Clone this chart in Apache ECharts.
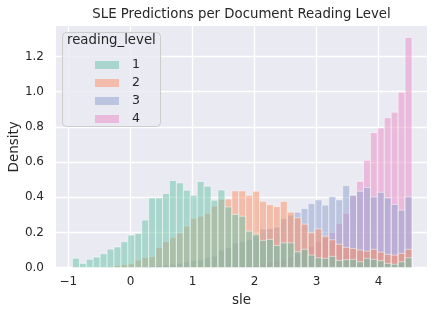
<!DOCTYPE html>
<html><head><meta charset="utf-8">
<script src="https://cdn.jsdelivr.net/npm/echarts@6/dist/echarts.min.js"></script>
<style>html,body{margin:0;padding:0;background:#fff}#c{width:436px;height:315px}</style>
</head><body><div id="c"></div>
<script>
// ---- data ----
const levels = ['1', '2', '3', '4'];
const binStart = -0.935;
const binWidth = 0.1117;
const level1 = [0.053,0.024,0.047,0.060,0.079,0.105,0.117,0.147,0.185,0.194,
  0.270,0.396,0.396,0.421,0.495,0.481,0.440,0.411,0.489,0.462,
  0.383,0.441,0.345,0.302,0.292,0.207,0.190,0.155,0.160,0.126,
  0.141,0.141,0.090,0.104,0.071,0.056,0.053,0.064,0.041,0.045,
  0.047,0.033,0.053,0.047,0.039,0.024,0.019,0.033,0.056];
const level2 = [0,0,0,0,0.003,0.006,0.012,0.017,0.022,0.043,
  0.058,0.062,0.115,0.147,0.172,0.196,0.236,0.279,0.292,0.308,
  0.349,0.388,0.390,0.436,0.436,0.411,0.434,0.377,0.358,0.347,
  0.376,0.315,0.283,0.247,0.198,0.220,0.179,0.158,0.133,0.115,
  0.109,0.100,0.094,0.104,0.088,0.075,0.071,0.081,0.104];
const level3 = [0,0,0,0,0,0,0,0,0,0.004,
  0.006,0.008,0.012,0.015,0.020,0.025,0.033,0.040,0.045,0.058,
  0.065,0.100,0.115,0.141,0.147,0.160,0.180,0.219,0.222,0.230,
  0.279,0.298,0.315,0.336,0.364,0.385,0.355,0.404,0.385,0.466,
  0.411,0.434,0.455,0.402,0.428,0.396,0.359,0.326,0.402];
const level4 = [0,0,0,0,0,0,0,0,0,0,
  0,0,0,0,0,0,0,0,0,0,
  0.003,0.004,0.005,0.006,0.008,0.010,0.012,0.020,0.030,0.040,
  0.050,0.060,0.080,0.100,0.120,0.150,0.170,0.200,0.250,0.308,
  0.412,0.490,0.610,0.767,0.793,0.852,0.883,0.997,1.308];
const xTicks = [-1, 0, 1, 2, 3, 4];
const yTicks = [0, 0.2, 0.4, 0.6, 0.8, 1.0, 1.2];

// ---- styling ----
const palette = {'1': '#66c2a5', '2': '#fc8d62', '3': '#8da0cb', '4': '#e78ac3'};
const legendColor = {'1': 'rgba(102,194,165,0.5)', '2': 'rgba(252,141,98,0.5)', '3': 'rgba(141,160,203,0.5)', '4': 'rgba(231,138,195,0.5)'};
const FONT = 'DejaVu Sans';
const TXT = '#262626';
const valuesByLevel = {'1': level1, '2': level2, '3': level3, '4': level4};

function binData(vals) {
  return vals.map((v, i) => [binStart + i * binWidth, binStart + (i + 1) * binWidth, v]);
}
function renderBar(color) {
  return function (params, api) {
    const h = api.value(2);
    if (!h) return null;
    const p0 = api.coord([api.value(0), 0]);
    const p1 = api.coord([api.value(1), h]);
    return {
      type: 'rect',
      shape: {x: p0[0], y: p1[1], width: p1[0] - p0[0], height: p0[1] - p1[1]},
      style: {fill: color, stroke: '#ffffff', lineWidth: 1, opacity: 0.5}
    };
  };
}
function fmtInt(v) {
  const r = Math.round(v);
  if (Math.abs(v - r) > 1e-6) return '';
  return r < 0 ? '\u2212' + (-r) : String(r);
}

const barSeries = ['4', '3', '2', '1'].map(l => ({
  name: l,
  type: 'custom',
  z: 2,
  renderItem: renderBar(palette[l]),
  itemStyle: {color: legendColor[l]},
  encode: {x: [0, 1], y: 2},
  data: binData(valuesByLevel[l])
}));

const gridSeries = {
  name: 'grid',
  type: 'line',
  data: [],
  z: 1,
  silent: true,
  markLine: {
    silent: true, symbol: 'none', z: 1, animation: false,
    label: {show: false},
    lineStyle: {color: '#ffffff', width: 1.3, type: 'solid'},
    emphasis: {disabled: true},
    data: xTicks.map(v => ({xAxis: v})).concat(yTicks.map(v => ({yAxis: v})))
  }
};

const chart = echarts.init(document.getElementById('c'), null, {renderer: 'canvas'});
chart.setOption({
  animation: false,
  backgroundColor: '#ffffff',
  textStyle: {fontFamily: FONT},
  grid: {left: 56, right: 9, top: 26, bottom: 47.4, show: true, backgroundColor: '#eaeaf2', borderWidth: 0,
    containLabel: false, outerBoundsMode: 'none'},
  xAxis: {
    type: 'value', min: -1.2, max: 4.78, interval: 0.2,
    axisLine: {show: false}, axisTick: {show: false}, splitLine: {show: false},
    axisLabel: {formatter: fmtInt, color: TXT, fontSize: 12, fontFamily: FONT, margin: 8},
    name: 'sle', nameLocation: 'middle', nameGap: 26, nameMoveOverlap: false,
    nameTextStyle: {color: TXT, fontSize: 13.5, fontFamily: FONT}
  },
  yAxis: {
    type: 'value', min: 0, max: 1.373, interval: 0.2,
    axisLine: {show: false}, axisTick: {show: false}, splitLine: {show: false},
    axisLabel: {
      formatter: v => (Math.abs(v / 0.2 - Math.round(v / 0.2)) < 1e-6 ? v.toFixed(1) : ''),
      showMaxLabel: false, color: TXT, fontSize: 12, fontFamily: FONT, margin: 12
    },
    name: 'Density', nameLocation: 'middle', nameGap: 35, nameMoveOverlap: false,
    nameTextStyle: {color: TXT, fontSize: 13.5, fontFamily: FONT}
  },
  legend: {
    data: levels,
    orient: 'vertical',
    left: 90, top: 53, z: 20,
    icon: 'rect', itemWidth: 24, itemHeight: 8, itemGap: 4,
    textStyle: {color: TXT, fontSize: 12.5, fontFamily: FONT, lineHeight: 14, padding: [0, 0, 0, 8]},
    selectedMode: false
  },
  graphic: [
    {type: 'rect', z: 5, left: 62, top: 32, shape: {width: 98, height: 94, r: 4},
      style: {fill: 'rgba(234,234,242,0.8)', stroke: '#cccccc', lineWidth: 1}},
    {type: 'text', z: 6, left: 67, top: 34,
      style: {text: 'reading_level', fill: TXT, font: '13.3px "DejaVu Sans"'}},
    {type: 'text', z: 6, x: 241.5, y: 14.5,
      style: {text: 'SLE Predictions per Document Reading Level', fill: TXT, font: '13.3px "DejaVu Sans"', align: 'center', verticalAlign: 'middle'}}
  ],
  series: [gridSeries].concat(barSeries)
});
</script>
</body></html>
